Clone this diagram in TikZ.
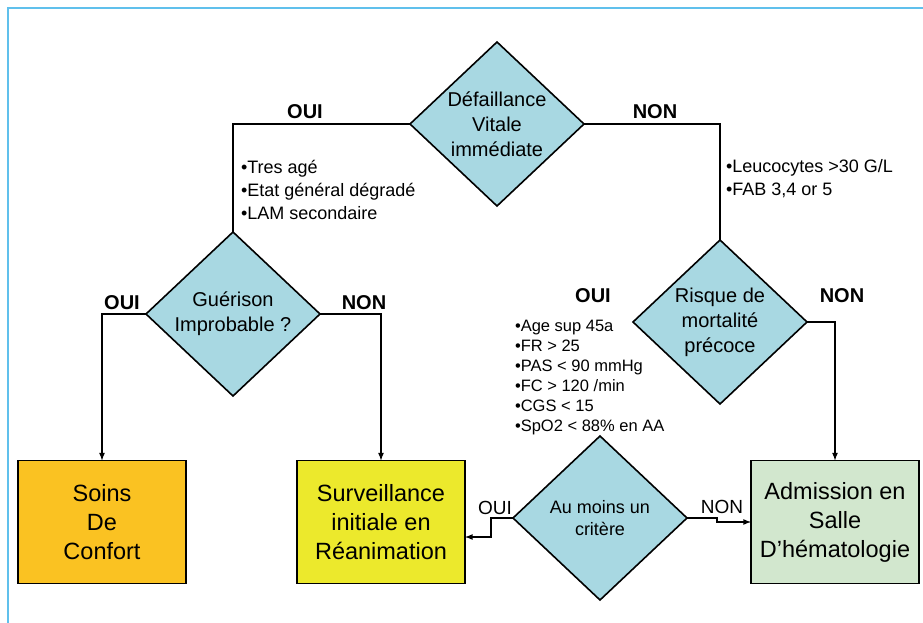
\documentclass[tikz,border=0pt]{standalone}
\usepackage{fontspec}
\setmainfont{Liberation Sans}
\usetikzlibrary{positioning,calc,shapes.geometric}
\definecolor{dialblue}{RGB}{168,216,226}
\definecolor{soinscol}{RGB}{250,194,34}
\definecolor{survcol}{RGB}{236,233,44}
\definecolor{admcol}{RGB}{210,231,206}
\definecolor{framecol}{RGB}{96,192,236}

\begin{document}
\begin{tikzpicture}[x=1pt,y=-1pt,
				every node/.style={inner sep=0pt,outer sep=0pt},
				dia/.style={draw,diamond,fill=dialblue,line width=1.6pt,aspect=1.06,minimum width=174pt,minimum height=164pt,align=center,font=\fontsize{20}{25}\selectfont},
				box/.style={draw,rectangle,line width=1.6pt,minimum width=168pt,minimum height=123pt,align=center,font=\fontsize{23.5}{29}\selectfont},
				ans/.style={font=\bfseries\fontsize{20}{24}\selectfont},
				smallans/.style={font=\fontsize{19}{22}\selectfont},
				crit/.style={align=left,anchor=west,font=\fontsize{18}{23}\selectfont},
				link/.style={line width=1.6pt}]
				\useasboundingbox (0,0) rectangle (923,623);
				\draw[framecol,line width=1.5pt] (8,623) -- (8,8) -- (923,8);

				% decisions
				\node[dia] (D1) at (497,124) {Défaillance\\Vitale\\immédiate};
				\node[dia] (D2) at (233,314) {Guérison\\Improbable ?};
				\node[dia] (D3) at (720,322) {Risque de\\mortalité\\précoce};
				\node[dia,font=\fontsize{18}{22}\selectfont] (D4) at (600,518) {Au moins un\\critère};

				% outcomes
				\node[box,fill=soinscol] (soins) at (102,522) {Soins\\De\\Confort};
				\node[box,fill=survcol]  (surv)  at (381,522) {Surveillance\\initiale en\\Réanimation};
				\node[box,fill=admcol]   (adm)   at (835,522) {Admission en\\Salle\\D’hématologie};

				% criteria
				\node[crit] (critA) at (241,190) {•Tres agé\\•Etat général dégradé\\•LAM secondaire};
				\node[crit] (critB) at (726,179) {•Leucocytes >30 G/L\\•FAB 3,4 or 5};
				\node[crit,font=\fontsize{16.5}{20}\selectfont] (critC) at (515,378)
					{•Age sup 45a\\•FR > 25\\•PAS < 90 mmHg\\•FC > 120 /min\\•CGS < 15\\•SpO2 < 88\% en AA};

				% answers
				\node[ans] (ouiA) at (305,112) {OUI};
				\node[ans] (nonA) at (655,112) {NON};
				\node[ans] (ouiB) at (122,303) {OUI};
				\node[ans] (nonB) at (364,303) {NON};
				\node[ans] (ouiC) at (593,296) {OUI};
				\node[ans] (nonC) at (842,296) {NON};
				\node[smallans] (ouiD) at (495,508) {OUI};
				\node[smallans] (nonD) at (722,507) {NON};

				\draw[link] (D1.west) -| (D2.north);
				\draw[link] (D1.east) -| (D3.north);
				\draw[link,-latex] (D2.west) -| (soins.north);
				\draw[link,-latex] (D2.east) -| (surv.north);
				\draw[link,-latex] (D3.east) -| (adm.north);
				\draw[link,-latex] (D4.west) -- ++(-22,0) |- ([yshift=-15pt]surv.east);
				\draw[link,-latex] (D4.east) -- ++(30,0) |- (adm.west);
			\end{tikzpicture}
\end{document}
